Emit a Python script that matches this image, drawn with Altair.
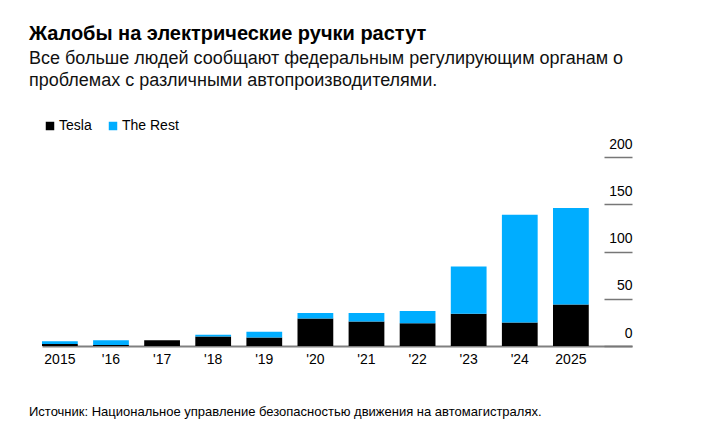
import altair as alt
import pandas as pd

years = ["2015", "'16", "'17", "'18", "'19", "'20", "'21", "'22", "'23", "'24", "2025"]
tesla = [2, 1, 6, 10, 9, 29, 26, 24, 34, 25, 44]
rest = [3, 5, 0, 2, 6, 6, 9, 13, 50, 114, 102]
series = ["Tesla", "The Rest"]
colors = ["#000000", "#00adff"]
y_ticks = [0, 50, 100, 150, 200]

title_text = "Жалобы на электрические ручки растут"
subtitle_lines = [
    "Все больше людей сообщают федеральным регулирующим органам о",
    "проблемах с различными автопроизводителями.",
]
source_text = "Источник: Национальное управление безопасностью движения на автомагистралях."

rows = []
for i, yr in enumerate(years):
    rows.append({"year": yr, "series": series[0], "value": tesla[i], "order": 0})
    rows.append({"year": yr, "series": series[1], "value": rest[i], "order": 1})
df = pd.DataFrame(rows)

FONT = "Liberation Sans, Arial, Helvetica, sans-serif"

bars = alt.Chart(df).mark_bar(strokeWidth=0).encode(
    x=alt.X(
        "year:N",
        sort=years,
        scale=alt.Scale(paddingInner=0.3, paddingOuter=0.423, align=0),
        axis=alt.Axis(
            title=None, labelAngle=0, ticks=False, tickSize=0,
            domainColor="#808080", domainWidth=2, labelPadding=6,
            labelFontSize=14, labelColor="#000", labelFont=FONT,
        ),
    ),
    y=alt.Y(
        "value:Q",
        stack="zero",
        scale=alt.Scale(domain=[0, 200], nice=False),
        axis=alt.Axis(
            orient="right", offset=-28, values=y_ticks, tickSize=28,
            tickColor="#777777", tickWidth=1.5, domain=False, grid=False,
            labelAlign="right", labelPadding=0, labelBaseline="alphabetic",
            labelOffset=-9, labelFontSize=14, labelColor="#000", labelFont=FONT,
            title=None,
        ),
    ),
    color=alt.Color(
        "series:N",
        scale=alt.Scale(domain=series, range=colors),
        legend=alt.Legend(
            title=None, orient="none", legendX=1, legendY=-38,
            direction="horizontal", symbolType="square", symbolSize=72,
            symbolStrokeWidth=0, labelFontSize=14, labelFont=FONT,
            labelColor="#000", labelOffset=2, columnPadding=14,
        ),
    ),
    order=alt.Order("order:Q"),
)

src = alt.Chart(alt.Data(values=[{"t": source_text}])).mark_text(
    align="left", baseline="alphabetic", fontSize=13, font=FONT, color="#000"
).encode(text="t:N", x=alt.value(-13), y=alt.value(259))

chart = alt.layer(bars, src).properties(
    width=590,
    height=189,
    autosize=alt.AutoSizeParams(type="none"),
    padding={"left": 34, "top": 149, "right": 60, "bottom": 80},
    title=alt.TitleParams(
        text=title_text, subtitle=subtitle_lines, anchor="start", frame="group",
        dx=-13, offset=29, font=FONT, fontSize=20, fontWeight="bold", color="#000",
        subtitleFont=FONT, subtitleFontSize=18, subtitleColor="#111",
        subtitleLineHeight=22, subtitlePadding=6,
    ),
).configure_view(strokeWidth=0)

chart.save("out.html", embed_options={"renderer": "svg", "actions": False})
